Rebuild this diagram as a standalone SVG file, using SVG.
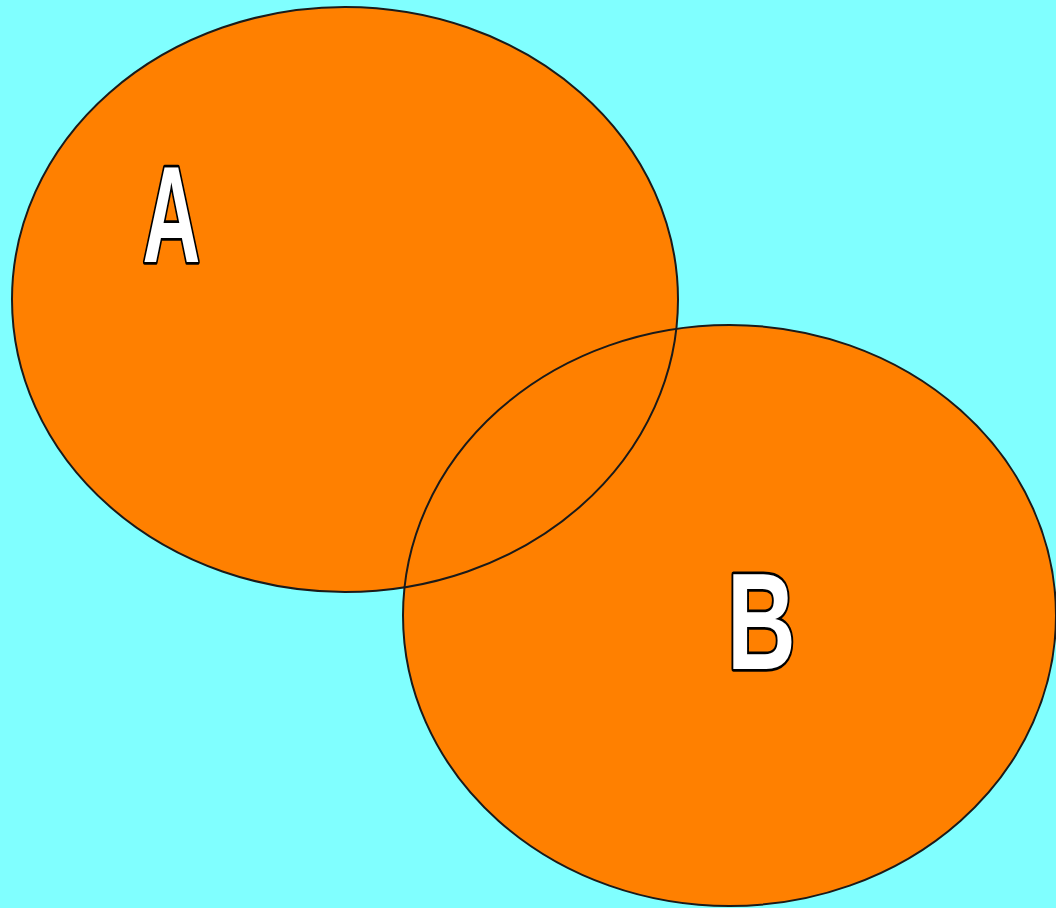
<svg xmlns="http://www.w3.org/2000/svg" width="1056" height="908" viewBox="0 0 1056 908">
<style>
.fill{fill:#FF8000;stroke:none}
.edge{fill:none;stroke:#1a1a1a;stroke-width:2}
.lbl{font-family:"Liberation Sans",Arial,sans-serif;font-size:138px;font-weight:bold;fill:#ffffff;stroke:#000000;stroke-width:5.5;stroke-linejoin:round;text-anchor:middle;paint-order:stroke}
</style>
<rect x="0" y="0" width="1056" height="908" fill="#80FFFF"/>
<g id="fills">
<ellipse class="fill" cx="345" cy="299.5" rx="333" ry="292.5"/>
<ellipse class="fill" cx="729.5" cy="615.5" rx="326.5" ry="290.5"/>
</g>
<g id="A">
<ellipse class="edge" cx="345" cy="299.5" rx="333" ry="292.5"/>
<text class="lbl" transform="translate(171.5,262) scale(0.58,1)">A</text>
</g>
<g id="B">
<ellipse class="edge" cx="729.5" cy="615.5" rx="326.5" ry="290.5"/>
<text class="lbl" transform="translate(761.5,669) scale(0.69,1)">B</text>
</g>
</svg>
